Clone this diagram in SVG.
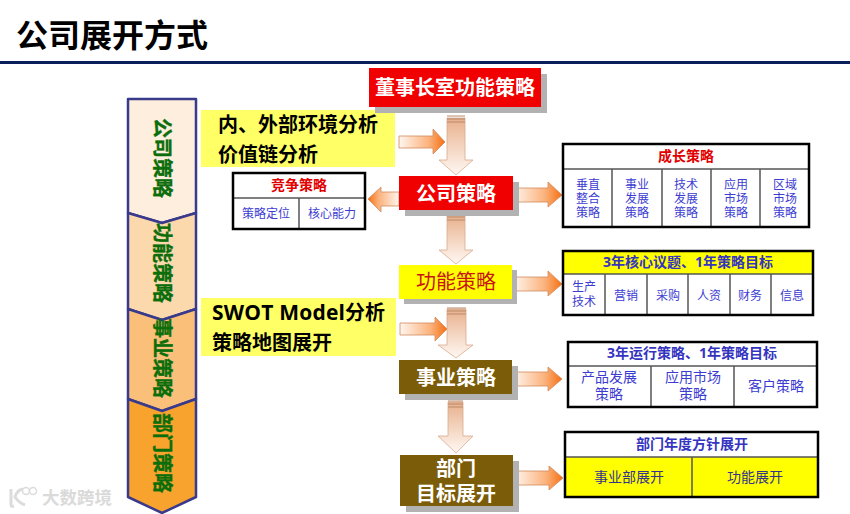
<svg xmlns="http://www.w3.org/2000/svg" width="850" height="514" viewBox="0 0 850 514">
<style>
text{font-family:"Open Sans","Noto Sans CJK SC",sans-serif}
.m{text-anchor:middle}
.side{fill:#0b6e0b;stroke:#0b6e0b;stroke-width:.35;font-size:20px;font-weight:700;text-anchor:middle}
.sp{stroke:#3a3a8c;stroke-width:2.5;stroke-linejoin:round}
.ana{fill:#000;font-size:20px;font-weight:700}
.wt{fill:#fff;font-size:20px;font-weight:700;text-anchor:middle}
.sh{fill:#b2b2b2}
.frame{fill:none;stroke:#000;stroke-width:2.5}
.div{stroke:#555;stroke-width:1.5;fill:none}
.c{fill:#3c3cd2;font-size:12px;text-anchor:middle}
.d{fill:#3c3cd2;font-size:14px;text-anchor:middle}
.h{fill:#3434c0;font-size:14px;font-weight:700;text-anchor:middle}
.r{fill:#e00000;font-size:14px;font-weight:700;text-anchor:middle}
.ar{fill:url(#gr);stroke:#d08a5c;stroke-width:.8}
.al{fill:url(#gl);stroke:#d08a5c;stroke-width:.8}
.ad{fill:url(#gd);stroke:#d8ab8e;stroke-width:.8}
.ring{stroke:#b98a6c;stroke-width:1;fill:none}
</style>
<defs>
<linearGradient id="gr" x1="0" y1="0" x2="1" y2="0"><stop offset="0" stop-color="#fff6ef"/><stop offset=".65" stop-color="#fbb27c"/><stop offset="1" stop-color="#f56f12"/></linearGradient>
<linearGradient id="gl" x1="1" y1="0" x2="0" y2="0"><stop offset="0" stop-color="#fff6ef"/><stop offset=".65" stop-color="#fbb27c"/><stop offset="1" stop-color="#f56f12"/></linearGradient>
<linearGradient id="gd" x1="0" y1="0" x2="0" y2="1"><stop offset="0" stop-color="#e8b08c"/><stop offset="1" stop-color="#fff8f3"/></linearGradient>
</defs>
<rect width="850" height="514" fill="#fff"/>
<g id="title">
<text x="16" y="47" font-size="32" font-weight="700" fill="#000">公司展开方式</text>
<rect x="0" y="61" width="850" height="3" fill="#0b1f5c"/>
</g>
<g id="side-company">
<polygon class="sp" points="128,99 196,99 196,213 162,223 128,213" fill="#fdeedd"/>
<text class="side" transform="translate(162,158) rotate(90)" y="7">公司策略</text>
</g>
<g id="side-function">
<polygon class="sp" points="128,213 162,223 196,213 196,309 162,320 128,309" fill="#fcd9ad"/>
<text class="side" transform="translate(162,263) rotate(90)" y="7">功能策略</text>
</g>
<g id="side-business">
<polygon class="sp" points="128,309 162,320 196,309 196,399 162,411 128,399" fill="#fac07a"/>
<text class="side" transform="translate(162,358) rotate(90)" y="7">事业策略</text>
</g>
<g id="side-dept">
<polygon class="sp" points="128,399 162,411 196,399 196,497 162,513 128,497" fill="#f7a32e"/>
<text class="side" transform="translate(162,453) rotate(90)" y="7">部门策略</text>
</g>
<g id="analysis-1">
<rect x="201" y="110" width="194" height="57" fill="#ffff66"/>
<text class="ana" x="218" y="132">内、外部环境分析</text>
<text class="ana" x="218" y="162">价值链分析</text>
</g>
<g id="analysis-2">
<rect x="201" y="298" width="195" height="58" fill="#ffff66"/>
<text class="ana" x="212" y="320"><tspan font-size="21" letter-spacing=".2">SWOT Model</tspan>分析</text>
<text class="ana" x="212" y="350">策略地图展开</text>
</g>
<g id="connectors">
<path class="ad" d="M447,118H465V160H473L456,175L439,160H447Z"/>
<path class="ring" d="M447,116H465M447,119H465M447,122H465"/>
<path class="ad" d="M447,215H465V250H473L456,264L439,250H447Z"/>
<path class="ring" d="M447,214H465M447,217H465M447,220H465"/>
<path class="ad" d="M447,309H466V345H473L456,358L438,345H447Z"/>
<path class="ring" d="M447,308H466M447,311H466M447,314H466"/>
<path class="ad" d="M448,402H463V436H473L456,453L438,436H448Z"/>
<path class="ring" d="M448,401H463M448,404H463M448,407H463"/>
<path class="ar" d="M399,136H433V129L445,142L433,154V148H399Z"/>
<path class="ar" d="M400,323H435V317L447,329L435,341V335H400Z"/>
<path class="ar" d="M513,188H548V182L562,195L548,207V202H513Z"/>
<path class="al" d="M399,192H381V187L368,199L381,212V206H399Z"/>
<path class="ar" d="M513,277H548V271L562,284L548,296V291H513Z"/>
<path class="ar" d="M513,372H548V367L562,379L548,391V386H513Z"/>
<path class="ar" d="M514,471H549V466L563,478L549,490V485H514Z"/>
</g>
<g id="node-board">
<rect class="sh" x="375" y="74" width="172" height="39"/>
<rect x="369" y="68" width="172" height="39" fill="#f00000"/>
<text class="wt" x="455" y="95">董事长室功能策略</text>
</g>
<g id="node-company">
<rect class="sh" x="405" y="182" width="114" height="34"/>
<rect x="399" y="176" width="114" height="34" fill="#f00000"/>
<text class="wt" x="456" y="201">公司策略</text>
</g>
<g id="node-function">
<rect class="sh" x="404" y="270" width="113" height="34"/>
<rect x="399" y="265" width="113" height="34" fill="#ffff00"/>
<text x="456" y="289" class="m" font-size="20" fill="#c81414">功能策略</text>
</g>
<g id="node-business">
<rect class="sh" x="405" y="366" width="113" height="34"/>
<rect x="399" y="360" width="113" height="34" fill="#7b5c08"/>
<text class="wt" x="456" y="385">事业策略</text>
</g>
<g id="node-dept">
<rect class="sh" x="406" y="461" width="113" height="51"/>
<rect x="400" y="455" width="113" height="51" fill="#7b5c08"/>
<text class="wt" x="456" y="476">部门<tspan x="456" dy="25">目标展开</tspan></text>
</g>
<g id="table-compete">
<rect x="233" y="173" width="132" height="56" fill="#fff"/>
<path class="div" d="M233,198H365M299,198V229"/>
<rect class="frame" x="233" y="173" width="132" height="56"/>
<text class="r" x="299" y="190">竞争策略</text>
<text class="c" x="266" y="218">策略定位</text>
<text class="c" x="332" y="218">核心能力</text>
</g>
<g id="table-growth">
<rect x="563" y="144" width="246" height="83" fill="#fff"/>
<path class="div" d="M563,169H809M612,169V227M662,169V227M711,169V227M760,169V227"/>
<rect class="frame" x="563" y="144" width="246" height="83"/>
<text class="r" x="686" y="161">成长策略</text>
<text class="c" x="588" y="189">垂直<tspan x="588" dy="14">整合</tspan><tspan x="588" dy="14">策略</tspan></text>
<text class="c" x="637" y="189">事业<tspan x="637" dy="14">发展</tspan><tspan x="637" dy="14">策略</tspan></text>
<text class="c" x="686" y="189">技术<tspan x="686" dy="14">发展</tspan><tspan x="686" dy="14">策略</tspan></text>
<text class="c" x="736" y="189">应用<tspan x="736" dy="14">市场</tspan><tspan x="736" dy="14">策略</tspan></text>
<text class="c" x="785" y="189">区域<tspan x="785" dy="14">市场</tspan><tspan x="785" dy="14">策略</tspan></text>
</g>
<g id="table-3year-core">
<rect x="563" y="251" width="250" height="64" fill="#fff"/>
<rect x="563" y="251" width="250" height="23" fill="#ffff00"/>
<path class="div" d="M563,274H813M605,274V315M647,274V315M688,274V315M730,274V315M771,274V315"/>
<rect class="frame" x="563" y="251" width="250" height="64"/>
<text class="h" x="688" y="267">3年核心议题、1年策略目标</text>
<text class="c" x="584" y="291">生产<tspan x="584" dy="15">技术</tspan></text>
<text class="c" x="626" y="300">营销</text>
<text class="c" x="668" y="300">采购</text>
<text class="c" x="709" y="300">人资</text>
<text class="c" x="750" y="300">财务</text>
<text class="c" x="792" y="300">信息</text>
</g>
<g id="table-3year-run">
<rect x="568" y="342" width="249" height="65" fill="#fff"/>
<path class="div" d="M568,366H817M651,366V407M734,366V407"/>
<rect class="frame" x="568" y="342" width="249" height="65"/>
<text class="h" x="692" y="358">3年运行策略、1年策略目标</text>
<text class="d" x="609" y="382">产品发展<tspan x="609" dy="17">策略</tspan></text>
<text class="d" x="693" y="382">应用市场<tspan x="693" dy="17">策略</tspan></text>
<text class="d" x="776" y="391">客户策略</text>
</g>
<g id="table-dept">
<rect x="565" y="432" width="253" height="25" fill="#fff"/>
<rect x="565" y="457" width="253" height="40" fill="#ffff00"/>
<path class="div" d="M565,457H818M692,457V497"/>
<rect class="frame" x="565" y="432" width="253" height="65"/>
<text class="h" x="692" y="449">部门年度方针展开</text>
<text class="d" style="fill:#34348a" x="629" y="482">事业部展开</text>
<text class="d" style="fill:#34348a" x="755" y="482">功能展开</text>
</g>
<g id="watermark">
<path d="M11,489V505Q11,507 14,506M23,489Q17,490 15,497Q19,503 25,505" fill="none" stroke="#dcdcdc" stroke-width="3"/>
<circle cx="26" cy="491" r="3.5" fill="none" stroke="#dcdcdc" stroke-width="1.5"/>
<circle cx="33" cy="491" r="3.5" fill="none" stroke="#dcdcdc" stroke-width="1.5"/>
<text x="42" y="504" font-size="17.5" font-weight="700" fill="#dadada">大数跨境</text>
</g>
</svg>
